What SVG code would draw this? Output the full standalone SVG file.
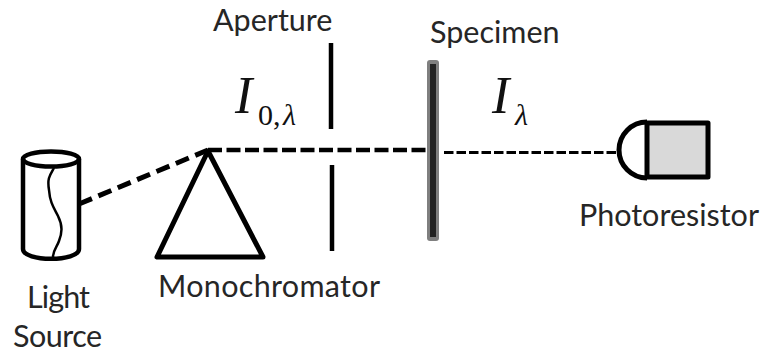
<svg xmlns="http://www.w3.org/2000/svg" width="762" height="354" viewBox="0 0 762 354">
<style>
.lbl{font-family:"Lato","Open Sans",sans-serif;font-size:30.500px;fill:#262626}
.sym{font-family:"Liberation Serif",serif;font-style:italic;fill:#111}
.k{fill:none;stroke:#000;stroke-linejoin:round}
</style>
<rect width="762" height="354" fill="#fff"/>
<g id="connectors" fill="none" stroke="#000">
<path d="M79 204L208 150" stroke-width="5" stroke-dasharray="14 7"/>
<path d="M208 150H428" stroke-width="4.500" stroke-dasharray="14 4.500"/>
<path d="M444 152.500H616" stroke-width="3" stroke-dasharray="9.500 3"/>
</g>
<g id="light-source">
<path class="k" stroke-width="4.500" d="M23 159V249C23 262 79 262 79 249V159"/>
<ellipse class="k" stroke-width="4.500" cx="51" cy="159" rx="28" ry="7.500"/>
<path class="k" stroke-width="2.500" d="M54 168C50 175 47 178 49 190C50 203 54 208 58 216C63 226 62 233 59 241C57 247 53 250 53 257"/>
<text class="lbl" x="27" y="308" textLength="63">Light</text>
<text class="lbl" x="13" y="347" textLength="89">Source</text>
</g>
<g id="monochromator">
<path class="k" stroke-width="5" d="M208 151L157 257H263Z"/>
<text class="lbl" x="158" y="297" textLength="222">Monochromator</text>
</g>
<g id="aperture">
<path class="k" stroke-width="4.500" d="M331 43V129M332 165V251"/>
<text class="lbl" x="213" y="31">Aperture</text>
</g>
<g id="specimen">
<rect x="427" y="60" width="12" height="181" rx="3" fill="#7f7f7f"/>
<rect x="430" y="64" width="6" height="173" fill="#222"/>
<text class="lbl" x="430" y="43">Specimen</text>
</g>
<g id="photoresistor">
<rect x="647" y="123" width="61" height="54" fill="#d9d9d9" stroke="#000" stroke-width="5" stroke-linejoin="round"/>
<path class="k" stroke-width="5" d="M647 122A28 28 0 0 0 647 178"/>
<text class="lbl" x="579" y="226">Photoresistor</text>
</g>
<g id="intensity-labels">
<text class="sym" x="235" y="113" font-size="52">I</text>
<text class="sym" x="258" y="125" font-size="30" style="font-style:normal">0,</text>
<text class="sym" x="283" y="125" font-size="30">λ</text>
<text class="sym" x="492" y="113" font-size="52">I</text>
<text class="sym" x="515" y="125" font-size="30">λ</text>
</g>
</svg>
